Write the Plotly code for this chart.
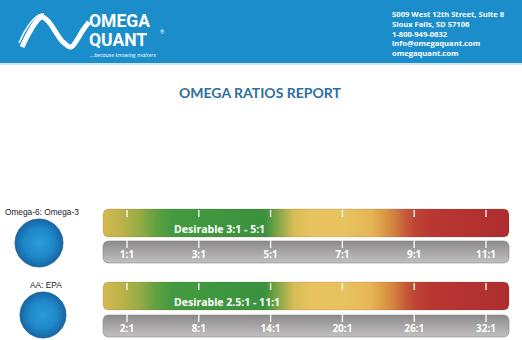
import numpy as np
import plotly.graph_objects as go

# ---------------- data ----------------
row_names = ["Omega-6: Omega-3", "AA: EPA"]
ticks_1 = [1, 3, 5, 7, 9, 11]
ticks_2 = [2, 8, 14, 20, 26, 32]
tick_labels_1 = ["1:1", "3:1", "5:1", "7:1", "9:1", "11:1"]
tick_labels_2 = ["2:1", "8:1", "14:1", "20:1", "26:1", "32:1"]
desirable_labels = ["Desirable 3:1 - 5:1", "Desirable 2.5:1 - 11:1"]
title_text = "OMEGA RATIOS REPORT"
address_lines = ["5009 West 12th Street, Suite 8", "Sioux Falls, SD 57106",
                 "1-800-949-0632", "info@omegaquant.com", "omegaquant.com"]

# ---------------- style ----------------
W, H = 522, 340
BAR_X0, BAR_X1 = 103, 509
PX_FIRST, PX_LAST = 127, 486
ROWS = [dict(top=209, bot=237, gtop=241, gbot=263, cy=243, cx=39, r=24, label_y=212),
        dict(top=282, bot=310, gtop=315, gbot=337, cy=315, cx=43, r=23, label_y=285)]
HEADER_BLUE = "#1b8dca"
BAR_SCALE = [[0.0, "#d3b94f"], [0.04, "#c0b44b"], [0.09, "#96ac45"], [0.13, "#62a041"],
             [0.17, "#439a3f"], [0.40, "#3a923f"], [0.43, "#80a645"], [0.47, "#d8bd57"],
             [0.51, "#e7c25e"], [0.60, "#e8c25f"], [0.66, "#e5b656"], [0.69, "#dd9c48"],
             [0.72, "#d07e3e"], [0.745, "#c65a38"], [0.77, "#be4434"], [0.81, "#b93733"],
             [1.0, "#ad2e2e"]]
GRAY_SCALE = [[0.0, "#c2c0c0"], [0.5, "#a7a5a5"], [1.0, "#8c8a8a"]]
CIRCLE_SCALE = [[0.0, "#2b9bd8"], [0.6, "#1f88c8"], [1.0, "#1765a6"]]


def rounded_rect(x0, y0, x1, y1, r, n=8):
    xs, ys = [], []
    corners = [(x1 - r, y0 + r, -90, 0), (x1 - r, y1 - r, 0, 90),
               (x0 + r, y1 - r, 90, 180), (x0 + r, y0 + r, 180, 270)]
    for cx, cy, a0, a1 in corners:
        for a in np.linspace(np.radians(a0), np.radians(a1), n):
            xs.append(cx + r * np.cos(a))
            ys.append(cy + r * np.sin(a))
    xs.append(xs[0]); ys.append(ys[0])
    return xs, ys


def circle(cx, cy, r, n=80):
    a = np.linspace(0, 2 * np.pi, n)
    return list(cx + r * np.cos(a)), list(cy + r * np.sin(a))


fig = go.Figure()
shapes, annotations = [], []

# header band
shapes.append(dict(type="rect", xref="x", yref="y", x0=0, x1=W, y0=0, y1=63,
                   fillcolor=HEADER_BLUE, line=dict(width=0), layer="below"))
shapes.append(dict(type="rect", xref="x", yref="y", x0=0, x1=W, y0=63, y1=65,
                   fillcolor="#cfe6f3", line=dict(width=0), layer="below"))

# logo wave
wave_x = [22, 29, 36, 42, 48, 55, 63, 71, 77, 83, 89]
wave_y = [47, 33, 22, 17, 21, 31, 42, 47, 40, 30, 22]
fig.add_trace(go.Scatter(x=wave_x, y=wave_y, mode="lines", line=dict(color="white", width=5, shape="spline"),
                         hoverinfo="skip", showlegend=False))
fig.add_trace(go.Scatter(x=[19, 25, 32, 39, 44], y=[43, 31, 21, 15, 14], mode="lines",
                         line=dict(color="white", width=1.5, shape="spline"), hoverinfo="skip", showlegend=False))
fig.add_trace(go.Scatter(x=[26, 31, 37, 43], y=[49, 38, 27, 20], mode="lines",
                         line=dict(color=HEADER_BLUE, width=1, shape="spline"), hoverinfo="skip", showlegend=False))

annotations += [
    dict(x=87, y=20.5, xref="x", yref="y", text="<b>OMEGA</b>", showarrow=False, xanchor="left", yanchor="middle",
         font=dict(family="Roboto", size=17.5, color="white")),
    dict(x=87, y=39.5, xref="x", yref="y", text="<b>QUANT</b>", showarrow=False, xanchor="left", yanchor="middle",
         font=dict(family="Roboto", size=17.5, color="white")),
    dict(x=158, y=32, xref="x", yref="y", text="®", showarrow=False, xanchor="left", yanchor="middle",
         font=dict(family="Roboto", size=5.5, color="white")),
    dict(x=88, y=54.5, xref="x", yref="y", text="<i>...because knowing matters</i>", showarrow=False,
         xanchor="left", yanchor="middle", font=dict(family="Open Sans", size=5.5, color="white")),
]
for i, line in enumerate(address_lines):
    annotations.append(dict(x=390, y=14 + i * 9.8, xref="x", yref="y", text=f"<b>{line}</b>", showarrow=False,
                            xanchor="left", yanchor="middle",
                            font=dict(family="Open Sans", size=7.6, color="white")))

annotations.append(dict(x=260, y=92, xref="x", yref="y", text=f"<b>{title_text}</b>", showarrow=False,
                        xanchor="center", yanchor="middle",
                        font=dict(family="Lato", size=14, color="#2e6f9e")))

# rows
tick_sets = [(ticks_1, tick_labels_1), (ticks_2, tick_labels_2)]
axis_names = ["x2", "x3"]
axis_layouts = {}
for k, (row, (tv, tl), name, ax) in enumerate(zip(ROWS, tick_sets, row_names, axis_names)):
    scale = (PX_LAST - PX_FIRST) / (tv[-1] - tv[0])
    rng = [tv[0] - PX_FIRST / scale, tv[0] + (W - PX_FIRST) / scale]
    axis_layouts["xaxis" + ax[1:]] = dict(range=rng, overlaying="x", visible=False, fixedrange=True)

    # circle
    cx, cy = circle(row["cx"], row["cy"], row["r"])
    fig.add_trace(go.Scatter(x=cx, y=cy, mode="lines", fill="toself",
                             fillgradient=dict(type="radial", colorscale=CIRCLE_SCALE),
                             line=dict(color="#1a5e98", width=0.8), hoverinfo="skip", showlegend=False))
    annotations.append(dict(x=row["cx"] + 3, y=row["label_y"], xref="x", yref="y", text=name, showarrow=False,
                            xanchor="center", yanchor="middle",
                            font=dict(family="Liberation Sans", size=8.3, color="#222")))

    # gradient bar
    bx, by = rounded_rect(BAR_X0, row["top"], BAR_X1, row["bot"], 5)
    fig.add_trace(go.Scatter(x=bx, y=by, mode="lines", fill="toself",
                             fillgradient=dict(type="horizontal", colorscale=BAR_SCALE),
                             line=dict(color="rgba(120,40,40,0.25)", width=0.6), hoverinfo="skip", showlegend=False))
    # gray bar
    gx, gy = rounded_rect(BAR_X0, row["gtop"], BAR_X1, row["gbot"], 5)
    fig.add_trace(go.Scatter(x=gx, y=gy, mode="lines", fill="toself",
                             fillgradient=dict(type="vertical", colorscale=GRAY_SCALE),
                             line=dict(color="#8a8888", width=0.6), hoverinfo="skip", showlegend=False))

    # tick marks on gradient bar
    txs, tys = [], []
    for v in tv:
        txs += [v, v, None]
        tys += [row["top"] + 1, row["top"] + 8, None]
    fig.add_trace(go.Scatter(x=txs, y=tys, xaxis=ax, yaxis="y", mode="lines",
                             line=dict(color="white", width=1.3), hoverinfo="skip", showlegend=False))
    # tick marks on gray bar
    gxs, gys = [], []
    for v in tv:
        gxs += [v, v, None]
        gys += [row["gtop"] - 1, row["gtop"] + 7, None]
    fig.add_trace(go.Scatter(x=gxs, y=gys, xaxis=ax, yaxis="y", mode="lines",
                             line=dict(color="white", width=1.3), hoverinfo="skip", showlegend=False))
    # tick labels
    fig.add_trace(go.Scatter(x=tv, y=[row["gtop"] + 14.5] * len(tv), xaxis=ax, yaxis="y", mode="text",
                             text=[f"<b>{t}</b>" for t in tl], textposition="middle center",
                             textfont=dict(family="Open Sans", size=10, color="white"),
                             hoverinfo="skip", showlegend=False))
    # desirable label
    annotations.append(dict(x=172, y=row["bot"] - 8, xref="x", yref="y", text=f"<b>{desirable_labels[k]}</b>",
                            showarrow=False, xanchor="left", yanchor="middle",
                            font=dict(family="Open Sans", size=10.5, color="white")))

fig.update_layout(
    width=W, height=H, margin=dict(l=0, r=0, t=0, b=0),
    paper_bgcolor="white", plot_bgcolor="white",
    xaxis=dict(range=[0, W], visible=False, fixedrange=True, domain=[0, 1]),
    yaxis=dict(range=[H, 0], visible=False, fixedrange=True, domain=[0, 1]),
    shapes=shapes, annotations=annotations, showlegend=False,
    **axis_layouts,
)
fig.write_html("out.html")
